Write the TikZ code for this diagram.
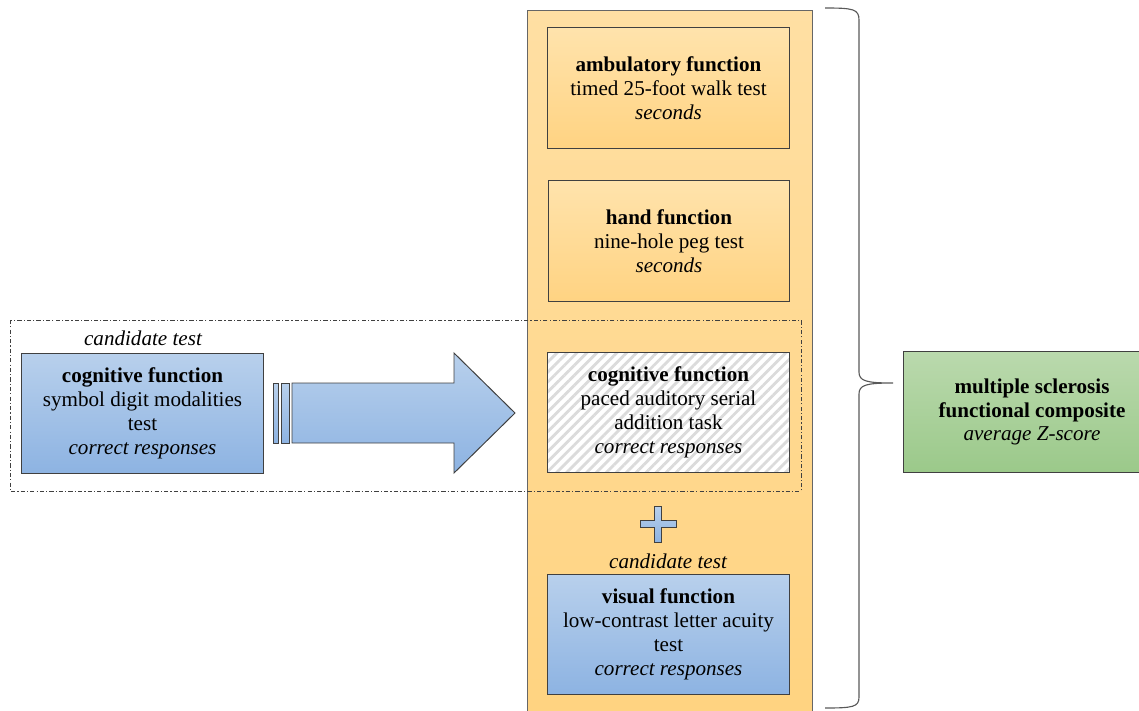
\documentclass[tikz,border=0pt]{standalone}
\usepackage{fontspec}
\setmainfont{Liberation Serif}
\usetikzlibrary{patterns.meta}
\definecolor{blueTop}{HTML}{B8D0EC}
\definecolor{blueBot}{HTML}{8DB3E2}
\definecolor{orgTop}{HTML}{FFE3AC}
\definecolor{orgBot}{HTML}{FFD382}
\definecolor{colTop}{HTML}{FFDFA3}
\definecolor{colBot}{HTML}{FFD380}
\definecolor{grnTop}{HTML}{BAD9AD}
\definecolor{grnBot}{HTML}{9BC98A}
\definecolor{edge}{HTML}{404040}

\begin{document}
\begin{tikzpicture}[x=0.025cm, y=-0.025cm, font=\fontsize{15}{17}\selectfont, line width=0.7pt,
    box/.style = {draw=edge, minimum width=60.25mm, minimum height=30mm, align=center, inner sep=0pt},
    bluebox/.style = {box, top color=blueTop, bottom color=blueBot},
    orgbox/.style = {box, top color=orgTop, bottom color=orgBot},
    hatchbox/.style = {box, preaction={fill=white}, pattern={Lines[angle=45, distance=5pt, line width=2pt]}, pattern color=black!14},
    grnbox/.style = {box, minimum width=64mm, top color=grnTop, bottom color=grnBot},
    cand/.style = {font=\fontsize{15}{17}\selectfont\itshape, inner sep=0pt},
    bluefill/.style = {draw=edge, top color=blueTop, bottom color=blueBot},
    frame/.style = {draw=black!75, line width=0.6pt, dash pattern=on 3pt off 1.5pt on 0.8pt off 1.5pt}]
    \useasboundingbox (0,0) rectangle (1139,711);
    \clip (0,0) rectangle (1139,711);
    \draw[draw=black!60, top color=colTop, bottom color=colBot] (527,10) rectangle (812,730);
    \draw[frame] (10,320) rectangle (801,491);
    \node[orgbox] (walk) at (668.5,88) {\textbf{ambulatory function}\\timed 25-foot walk test\\\textit{seconds}};
    \node[orgbox] (peg) at (669,241) {\textbf{hand function}\\nine-hole peg test\\\textit{seconds}};
    \node[hatchbox] (pasat) at (668.5,412.5) {\textbf{cognitive function}\\paced auditory serial\\addition task\\\textit{correct responses}};
    \node[cand] (cand2) at (668,561) {candidate test};
    \node[bluebox] (lcla) at (668.5,634.5) {\textbf{visual function}\\low-contrast letter acuity\\test\\\textit{correct responses}};
    \node[cand] (cand1) at (143,338) {candidate test};
    \node[bluebox] (sdmt) at (142.5,413.5) {\textbf{cognitive function}\\symbol digit modalities\\test\\\textit{correct responses}};
    \node[grnbox] (msfc) at (1032,412) {\textbf{multiple sclerosis}\\\textbf{functional composite}\\\textit{average Z-score}};
    \draw[bluefill] (273,383) rectangle (278,443);
    \draw[bluefill] (281,383) rectangle (289,443);
    \draw[bluefill] (292,383) -- (454,383) -- (454,353) -- (515,413) -- (454,473) -- (454,443) -- (292,443) -- cycle;
    \draw[bluefill] (654.5,506) -- (661.5,506) -- (661.5,520.5) -- (676,520.5) -- (676,527.5) -- (661.5,527.5) -- (661.5,542)
        -- (654.5,542) -- (654.5,527.5) -- (640,527.5) -- (640,520.5) -- (654.5,520.5) -- cycle;
    \draw[draw=black!65, line width=0.8pt] (825,8) .. controls (853,8) and (859,9) .. (859,20) -- (859,372)
        .. controls (859,381) and (866,383) .. (893,383) .. controls (866,383) and (859,385) .. (859,394)
        -- (859,697) .. controls (859,707) and (853,708) .. (825,708);
\end{tikzpicture}
\end{document}
